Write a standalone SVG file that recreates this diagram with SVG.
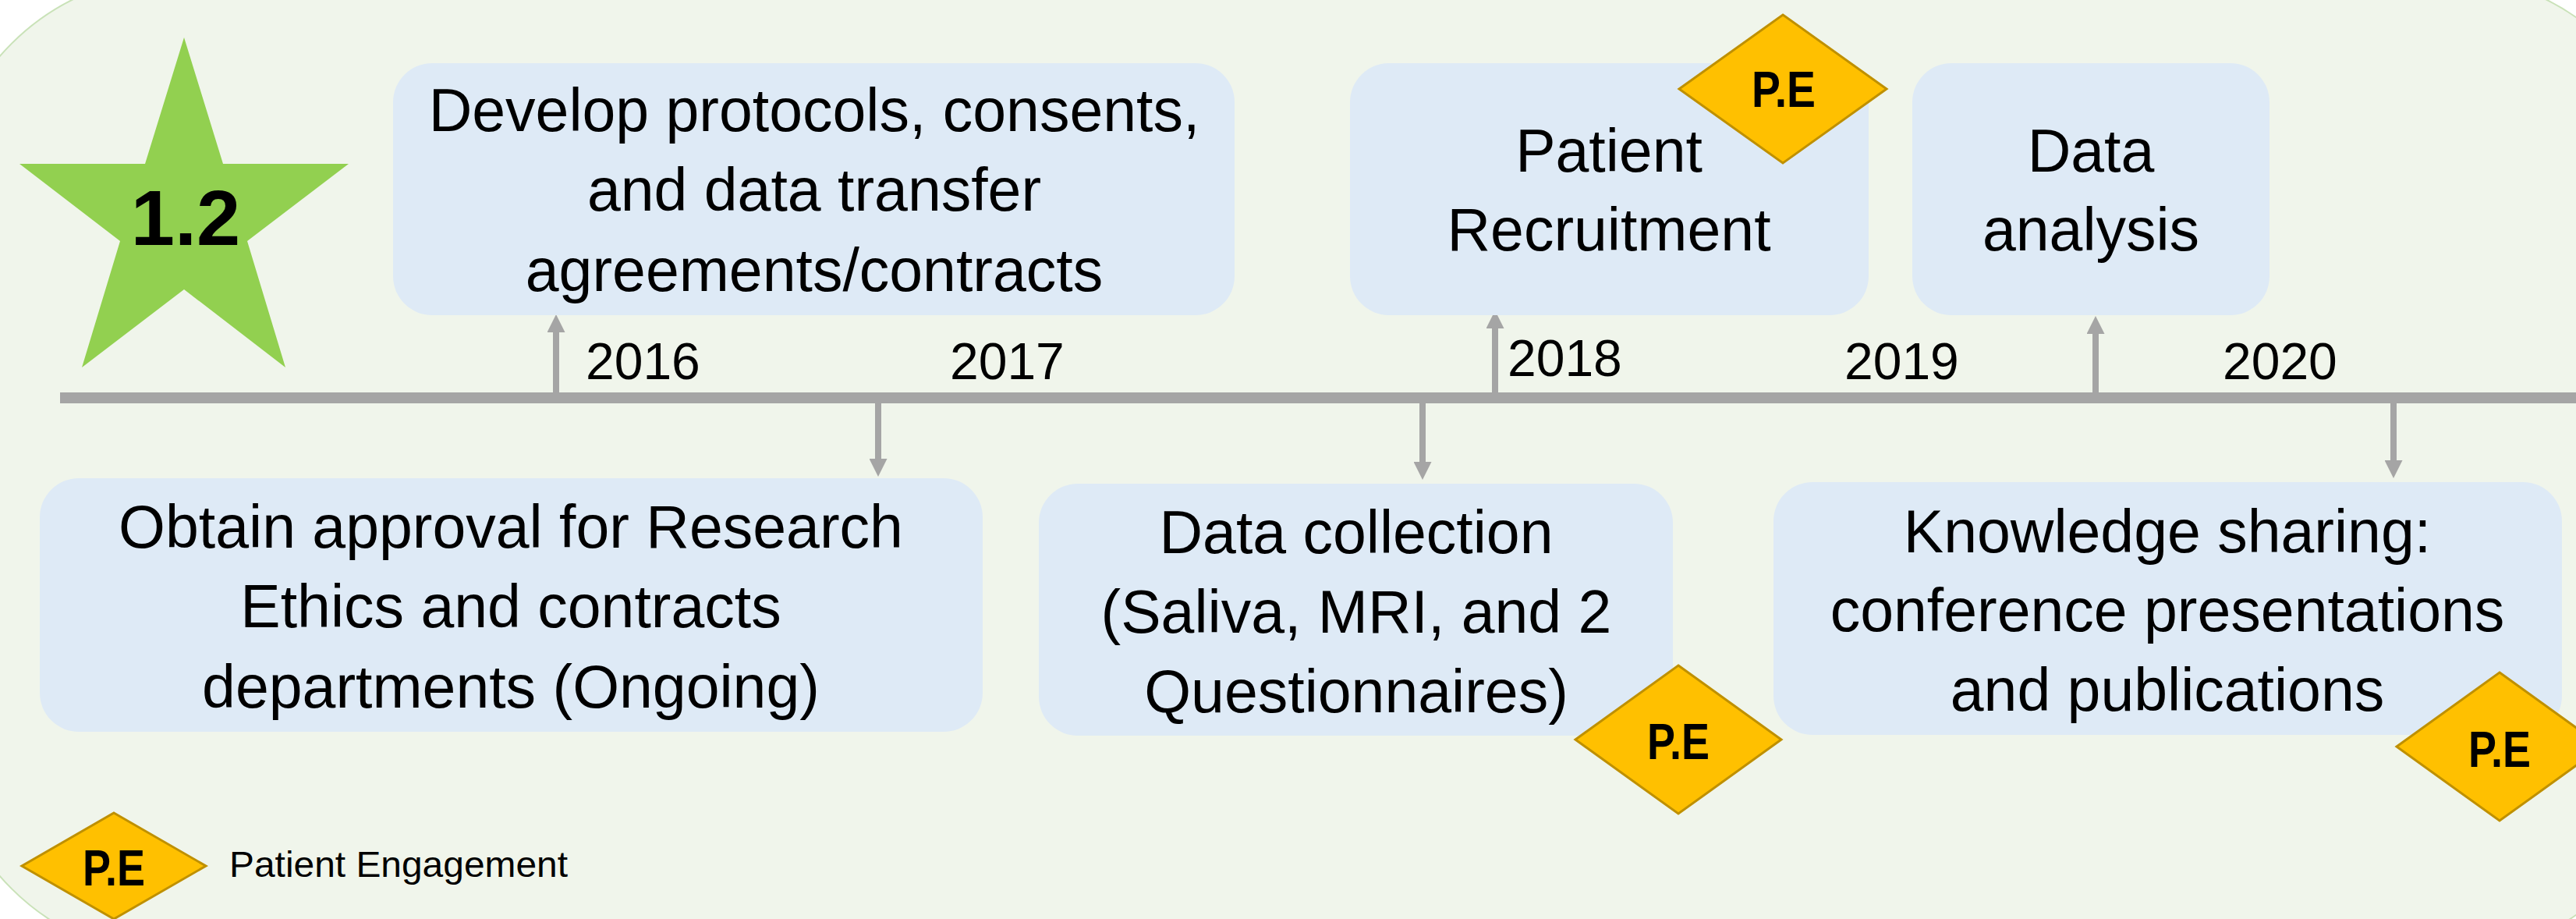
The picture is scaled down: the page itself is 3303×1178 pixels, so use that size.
<svg xmlns="http://www.w3.org/2000/svg" width="3303" height="1178" viewBox="0 0 3303 1178">
<defs>
<style>
.bg{fill:#F0F5EB;stroke:#C9E2B8;stroke-width:2}
.box{fill:#DEEAF6}
.t{font-family:"Liberation Sans",Arial,sans-serif;font-size:77px;fill:#000;text-anchor:middle}
.yr{font-family:"Liberation Sans",Arial,sans-serif;font-size:66px;fill:#000}
.pe{fill:#FFC000;stroke:#BF9000;stroke-width:3}
.pet{font-family:"Liberation Sans",Arial,sans-serif;font-size:64px;font-weight:bold;fill:#000;text-anchor:middle}
.conn{stroke:#A5A5A5;stroke-width:8;fill:none}
.leg{font-family:"Liberation Sans",Arial,sans-serif;font-size:46px;fill:#000}
</style>
<marker id="ah" markerUnits="userSpaceOnUse" viewBox="0 0 23 23" markerWidth="23" markerHeight="23" refX="0" refY="11.5" orient="auto">
<path d="M0,0 L23,11.5 L0,23 z" fill="#A5A5A5"/>
</marker>
</defs>
<rect class="bg" x="-73" y="-32" width="3504" height="1259" rx="300" ry="300"/>

<g id="star">
<polygon points="236,48 286,210 447,210 317,309 366,471 236,371 105,471 154,309 25,210 186,210" fill="#92D050"/>
<text x="238" y="314" font-family="Liberation Sans,Arial,sans-serif" font-size="101" font-weight="bold" text-anchor="middle" fill="#000">1.2</text>
</g>

<g id="timeline">
<rect x="77" y="503" width="3240" height="14" fill="#A5A5A5"/>
</g>

<g id="connectors">
<line class="conn" x1="713" y1="506" x2="713" y2="426" marker-end="url(#ah)"/>
<line class="conn" x1="1917" y1="506" x2="1917" y2="421" marker-end="url(#ah)"/>
<line class="conn" x1="2687" y1="506" x2="2687" y2="428" marker-end="url(#ah)"/>
<line class="conn" x1="1126" y1="514" x2="1126" y2="588" marker-end="url(#ah)"/>
<line class="conn" x1="1824" y1="514" x2="1824" y2="592" marker-end="url(#ah)"/>
<line class="conn" x1="3069" y1="514" x2="3069" y2="590" marker-end="url(#ah)"/>
</g>

<g id="years">
<text class="yr" x="751" y="486">2016</text>
<text class="yr" x="1218" y="486">2017</text>
<text class="yr" x="1933" y="482">2018</text>
<text class="yr" x="2365" y="486">2019</text>
<text class="yr" x="2850" y="486">2020</text>
</g>

<g id="develop">
<rect class="box" x="504" y="81" width="1079" height="323" rx="50"/>
<text class="t" x="1044" y="168">Develop protocols, consents,</text>
<text class="t" x="1044" y="270">and data transfer</text>
<text class="t" x="1044" y="373">agreements/contracts</text>
</g>

<g id="recruitment">
<rect class="box" x="1731" y="81" width="665" height="323" rx="50"/>
<text class="t" x="2063" y="220">Patient</text>
<text class="t" x="2063" y="321">Recruitment</text>
</g>

<g id="pe1">
<polygon class="pe" points="2286,19 2419,114 2286,209 2153,114"/>
<text class="pet" x="2287" y="137" textLength="82" lengthAdjust="spacingAndGlyphs">P.E</text>
</g>

<g id="analysis">
<rect class="box" x="2452" y="81" width="458" height="323" rx="50"/>
<text class="t" x="2681" y="220">Data</text>
<text class="t" x="2681" y="321">analysis</text>
</g>

<g id="approval">
<rect class="box" x="51" y="613" width="1209" height="325" rx="50"/>
<text class="t" x="655" y="702">Obtain approval for Research</text>
<text class="t" x="655" y="804">Ethics and contracts</text>
<text class="t" x="655" y="907">departments (Ongoing)</text>
</g>

<g id="collection">
<rect class="box" x="1332" y="620" width="813" height="323" rx="50"/>
<text class="t" x="1739" y="709">Data collection</text>
<text class="t" x="1739" y="811">(Saliva, MRI, and 2</text>
<text class="t" x="1739" y="913">Questionnaires)</text>
</g>

<g id="pe2">
<polygon class="pe" points="2152,853 2284,948 2152,1043 2020,948"/>
<text class="pet" x="2152" y="973" textLength="80" lengthAdjust="spacingAndGlyphs">P.E</text>
</g>

<g id="knowledge">
<rect class="box" x="2274" y="618" width="1011" height="324" rx="50"/>
<text class="t" x="2779" y="708">Knowledge sharing:</text>
<text class="t" x="2779" y="809">conference presentations</text>
<text class="t" x="2779" y="911">and publications</text>
</g>

<g id="pe3">
<polygon class="pe" points="3205,862 3337,957 3205,1052 3073,957"/>
<text class="pet" x="3205" y="983" textLength="80" lengthAdjust="spacingAndGlyphs">P.E</text>
</g>

<g id="legend">
<polygon class="pe" points="146,1042 264,1110 146,1178 28,1110"/>
<text class="pet" x="146" y="1135" textLength="80" lengthAdjust="spacingAndGlyphs">P.E</text>
<text class="leg" x="294" y="1124" textLength="434" lengthAdjust="spacingAndGlyphs">Patient Engagement</text>
</g>
</svg>
